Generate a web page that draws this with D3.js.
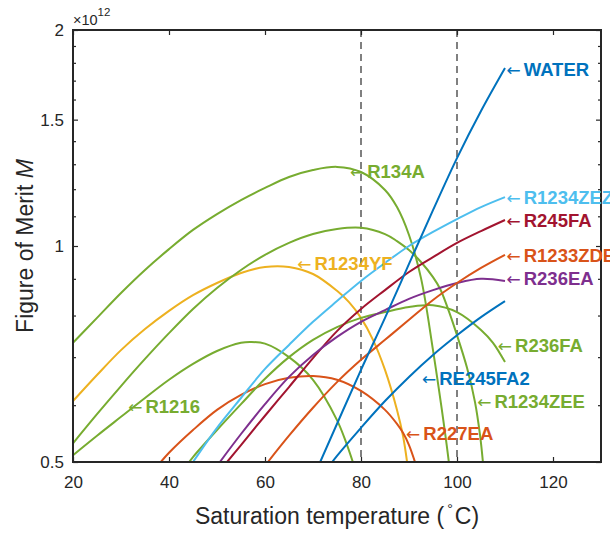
<!DOCTYPE html>
<html>
<head>
<meta charset="utf-8">
<script src="https://cdn.jsdelivr.net/npm/d3@7"></script>
<style>
  body { margin: 0; background: #fff; }
  svg { display: block; font-family: "Liberation Sans", Arial, Helvetica, sans-serif; }
</style>
</head>
<body>
<div id="chart"></div>
<script>
// each series: [saturation temperature (°C), figure of merit M (x 1e12)]
const water = [[71.5, 0.5], [80, 0.672], [85, 0.794], [90, 0.944], [95, 1.122], [100, 1.326], [105, 1.542], [110, 1.77]];
const re245fa2 = [[74, 0.5], [75, 0.51], [80, 0.558], [85, 0.608], [90, 0.657], [95, 0.705], [100, 0.751], [105, 0.796], [110, 0.838]];
const r1234zez = [[45, 0.5], [50, 0.558], [55, 0.614], [60, 0.674], [65, 0.728], [70, 0.784], [75, 0.838], [80, 0.894], [85, 0.947], [90, 1.0], [95, 1.046], [100, 1.09], [105, 1.133], [110, 1.17]];
const r245fa = [[52.1, 0.5], [55, 0.528], [60, 0.58], [65, 0.636], [70, 0.698], [75, 0.761], [80, 0.817], [85, 0.868], [90, 0.92], [95, 0.965], [100, 1.01], [105, 1.049], [110, 1.087]];
const r1233zde = [[60.6, 0.5], [65, 0.544], [70, 0.595], [75, 0.646], [80, 0.694], [85, 0.74], [90, 0.789], [95, 0.841], [100, 0.888], [105, 0.932], [110, 0.972]];
const r236ea = [[50.6, 0.5], [55, 0.547], [60, 0.602], [65, 0.657], [70, 0.705], [75, 0.747], [80, 0.784], [85, 0.814], [90, 0.844], [95, 0.868], [100, 0.888], [105, 0.9], [110, 0.894]];
const r227ea = [[38.3, 0.5], [40, 0.515], [45, 0.554], [50, 0.591], [55, 0.62], [60, 0.642], [65, 0.655], [70, 0.659], [75, 0.651], [80, 0.628], [85, 0.591], [87.5, 0.565], [88.75, 0.549], [90, 0.528], [91.25, 0.5]];
const r1234yf = [[20, 0.608], [25, 0.661], [30, 0.716], [35, 0.766], [40, 0.812], [45, 0.854], [50, 0.888], [55, 0.917], [60, 0.935], [65, 0.935], [70, 0.914], [75, 0.866], [77.5, 0.835], [80, 0.794], [82.5, 0.74], [85, 0.672], [87.5, 0.591], [88.75, 0.544], [89.6, 0.5]];
const r134a = [[20, 0.733], [25, 0.794], [30, 0.86], [35, 0.926], [40, 0.99], [45, 1.053], [50, 1.108], [55, 1.159], [60, 1.205], [65, 1.248], [70, 1.276], [75, 1.289], [80, 1.268], [85, 1.197], [87.5, 1.133], [90, 1.036], [92.5, 0.902], [95, 0.716], [97.5, 0.55], [98.3, 0.5]];
const r1234zee = [[20, 0.531], [25, 0.583], [30, 0.638], [35, 0.696], [40, 0.756], [45, 0.817], [50, 0.874], [55, 0.926], [60, 0.972], [65, 1.01], [70, 1.039], [75, 1.056], [80, 1.06], [85, 1.039], [87.5, 1.016], [90, 0.987], [92.5, 0.95], [95, 0.905], [96.5, 0.871], [97.9, 0.825], [100, 0.751], [102.1, 0.676], [103.75, 0.606], [104.8, 0.545], [105.4, 0.5]];
const r1216 = [[20, 0.511], [25, 0.544], [30, 0.578], [35, 0.614], [40, 0.651], [45, 0.685], [50, 0.714], [55, 0.733], [57, 0.735], [60, 0.731], [65, 0.7], [70, 0.651], [75, 0.572], [77, 0.53], [78.3, 0.5]];
const r236fa = [[44.2, 0.5], [45, 0.508], [50, 0.554], [55, 0.602], [60, 0.653], [65, 0.7], [70, 0.74], [75, 0.771], [80, 0.794], [85, 0.809], [90, 0.822], [95, 0.827], [100, 0.809], [105, 0.764], [107.5, 0.733], [110, 0.689]];

const seriesNames = ["R1216", "R1234YF", "R134A", "R1234ZEE", "R227EA", "R236FA", "R1234ZEZ", "R245FA", "R236EA", "R1233ZDE", "RE245FA2", "WATER"];
const seriesValues = [r1216, r1234yf, r134a, r1234zee, r227ea, r236fa, r1234zez, r245fa, r236ea, r1233zde, re245fa2, water];

// annotation anchors in data units [T, M]
const labelNames = ["WATER", "R1234ZEZ", "R245FA", "R1233ZDE", "R236EA", "R236FA", "RE245FA2", "R1234ZEE", "R227EA", "R134A", "R1234YF", "R1216"];
const labelAnchors = [[110.3, 1.765], [110.3, 1.17], [110.3, 1.087], [110.3, 0.97], [110.3, 0.9], [108.5, 0.728], [92.7, 0.655], [104.2, 0.608], [89.4, 0.549], [77.7, 1.272], [66.7, 0.947], [31.5, 0.597]];

const xTicks = [20, 40, 60, 80, 100, 120];
const yTicks = [0.5, 1, 1.5, 2];
const yMinorTicks = [0.6, 0.7, 0.8, 0.9, 1.1, 1.2, 1.3, 1.4, 1.6, 1.7, 1.8, 1.9];
const refTemps = [80, 100];

const colors = {
  WATER: "#0072BD", RE245FA2: "#0072BD",
  R227EA: "#D95319", R1233ZDE: "#D95319",
  R1234YF: "#EDB120",
  R236EA: "#7E2F8E",
  R134A: "#77AC30", R1234ZEE: "#77AC30", R1216: "#77AC30", R236FA: "#77AC30",
  R1234ZEZ: "#4DBEEE",
  R245FA: "#A2142F"
};

const width = 610, height = 533;
const plot = {left: 73, right: 601, top: 30, bottom: 462};
const ink = "#262626";

const svg = d3.select("#chart").append("svg")
  .attr("width", width)
  .attr("height", height);

const x = d3.scaleLinear().domain([20, 130]).range([plot.left, plot.right]);
const y = d3.scaleLog().domain([0.5, 2]).range([plot.bottom, plot.top]);

svg.append("defs").append("clipPath").attr("id", "plot-clip")
  .append("rect")
  .attr("x", plot.left).attr("y", plot.top)
  .attr("width", plot.right - plot.left).attr("height", plot.bottom - plot.top);

// reference temperatures
svg.append("g")
  .selectAll("line")
  .data(refTemps)
  .enter().append("line")
  .attr("x1", d => x(d)).attr("x2", d => x(d))
  .attr("y1", plot.top).attr("y2", plot.bottom)
  .attr("stroke", "#808080")
  .attr("stroke-width", 2)
  .attr("stroke-dasharray", "7,5");

const line = d3.line()
  .x(d => x(d[0]))
  .y(d => y(d[1]))
  .curve(d3.curveCatmullRom.alpha(0.5));

svg.append("g").attr("clip-path", "url(#plot-clip)")
  .selectAll("path")
  .data(seriesValues)
  .enter().append("path")
  .attr("d", line)
  .attr("fill", "none")
  .attr("stroke", (d, i) => colors[seriesNames[i]])
  .attr("stroke-width", 2);

// axes
function styleAxis(g) {
  g.select(".domain").remove();
  g.selectAll(".tick line").attr("stroke", ink).attr("stroke-width", 1.2);
  g.selectAll(".tick text")
    .attr("fill", ink)
    .style("font-size", "17px")
    .style("font-family", "\"Liberation Sans\", Arial, sans-serif");
}

svg.append("g")
  .attr("transform", `translate(0,${plot.bottom})`)
  .call(d3.axisBottom(x).tickValues(xTicks).tickSize(-5).tickPadding(14))
  .call(styleAxis);

svg.append("g")
  .attr("transform", `translate(0,${plot.top})`)
  .call(d3.axisTop(x).tickValues(xTicks).tickSize(-5).tickFormat(""))
  .call(styleAxis);

svg.append("g")
  .attr("transform", `translate(${plot.left},0)`)
  .call(d3.axisLeft(y).tickValues(yTicks).tickFormat(d => d).tickSize(-5).tickPadding(9))
  .call(styleAxis);

svg.append("g")
  .attr("transform", `translate(${plot.left},0)`)
  .call(d3.axisLeft(y).tickValues(yMinorTicks).tickFormat("").tickSize(-3))
  .call(styleAxis);

svg.append("g")
  .attr("transform", `translate(${plot.right},0)`)
  .call(d3.axisRight(y).tickValues(yTicks).tickFormat("").tickSize(-5))
  .call(styleAxis);

svg.append("g")
  .attr("transform", `translate(${plot.right},0)`)
  .call(d3.axisRight(y).tickValues(yMinorTicks).tickFormat("").tickSize(-3))
  .call(styleAxis);

svg.append("rect")
  .attr("x", plot.left).attr("y", plot.top)
  .attr("width", plot.right - plot.left).attr("height", plot.bottom - plot.top)
  .attr("fill", "none")
  .attr("stroke", ink)
  .attr("stroke-width", 2);

// exponent
const expo = svg.append("text")
  .attr("x", plot.left)
  .attr("y", 25)
  .attr("fill", ink)
  .style("font-size", "14.5px");
expo.append("tspan").text("\u00d710");
expo.append("tspan").attr("dy", -9).style("font-size", "11.5px").text("12");

// curve labels
const lab = svg.append("g")
  .selectAll("text")
  .data(labelNames)
  .enter().append("text")
  .attr("x", (d, i) => x(labelAnchors[i][0]))
  .attr("y", (d, i) => y(labelAnchors[i][1]))
  .attr("dy", "0.36em")
  .attr("fill", d => colors[d])
  .style("font-size", "18.5px");
lab.append("tspan").style("font-family", "\"DejaVu Sans\", sans-serif").style("font-size", "17px").text("\u2190");
lab.append("tspan").attr("dx", 3).style("font-weight", "bold").text(d => d);

// axis titles
const xTitle = svg.append("text")
  .attr("x", (plot.left + plot.right) / 2)
  .attr("y", 524)
  .attr("text-anchor", "middle")
  .attr("fill", ink)
  .style("font-size", "23px");
xTitle.append("tspan").text("Saturation temperature (");
xTitle.append("tspan").attr("dx", 3).attr("dy", -10).style("font-size", "14px").text("\u00b0");
xTitle.append("tspan").attr("dx", 2).attr("dy", 10).text("C)");

const yTitle = svg.append("text")
  .attr("transform", `translate(33,${(plot.top + plot.bottom) / 2}) rotate(-90)`)
  .attr("text-anchor", "middle")
  .attr("fill", ink)
  .style("font-size", "23px");
yTitle.append("tspan").text("Figure of Merit ");
yTitle.append("tspan").style("font-style", "italic").text("M");
</script>
</body>
</html>
